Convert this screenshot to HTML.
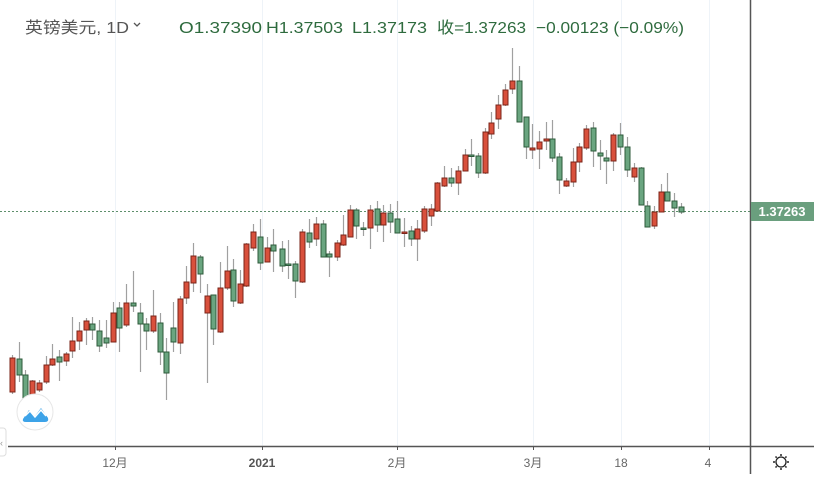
<!DOCTYPE html>
<html><head><meta charset="utf-8"><style>
body{margin:0;width:822px;height:482px;background:#fff;overflow:hidden;font-family:"Liberation Sans","Noto Sans CJK SC",sans-serif}
svg{position:absolute;left:0;top:0}
</style></head><body>
<svg id="s" width="822" height="482" xmlns="http://www.w3.org/2000/svg">
<g stroke="#eef3f8" stroke-width="1">
<line x1="115.5" y1="0" x2="115.5" y2="446"/><line x1="262.5" y1="0" x2="262.5" y2="446"/>
<line x1="397.5" y1="0" x2="397.5" y2="446"/><line x1="533.5" y1="0" x2="533.5" y2="446"/>
<line x1="621.5" y1="0" x2="621.5" y2="446"/><line x1="709.5" y1="0" x2="709.5" y2="446"/>
</g>
<line x1="0" y1="211.5" x2="750" y2="211.5" stroke="#5e8f6c" stroke-dasharray="2,2" stroke-width="1"/>
<g id="c"></g>
<line x1="8" y1="446.5" x2="814" y2="446.5" stroke="#555" stroke-width="1.5"/>
<line x1="750.5" y1="0" x2="750.5" y2="474" stroke="#555" stroke-width="1.5"/>
<g stroke="#555"><line x1="115.5" y1="446" x2="115.5" y2="450"/><line x1="262.5" y1="446" x2="262.5" y2="450"/><line x1="397.5" y1="446" x2="397.5" y2="450"/><line x1="533.5" y1="446" x2="533.5" y2="450"/><line x1="621.5" y1="446" x2="621.5" y2="450"/><line x1="709.5" y1="446" x2="709.5" y2="450"/></g>
<g font-size="12" fill="#666" text-anchor="middle" font-family="Liberation Sans,Noto Sans CJK SC,sans-serif">
<text x="115" y="467">12月</text><text x="262" y="467" font-weight="bold" fill="#555">2021</text>
<text x="397" y="467">2月</text><text x="533" y="467">3月</text><text x="621" y="467">18</text><text x="708" y="467">4</text>
</g>
<rect x="751" y="202" width="63" height="19" fill="#6a9f7e"/>
<text x="782" y="216" fill="#fff" font-size="13" text-anchor="middle" font-weight="bold">1.37263</text>
<g transform="translate(781,462)" stroke="#222" fill="none" stroke-width="1.3">
<circle r="5"/><g stroke-width="1.5"><line x1="0" y1="-8" x2="0" y2="-6"/><line x1="0" y1="8" x2="0" y2="6"/><line x1="-8" y1="0" x2="-6" y2="0"/><line x1="8" y1="0" x2="6" y2="0"/><line x1="-5.5" y1="-5.5" x2="-4.3" y2="-4.3"/><line x1="5.5" y1="5.5" x2="4.3" y2="4.3"/><line x1="-5.5" y1="5.5" x2="-4.3" y2="4.3"/><line x1="5.5" y1="-5.5" x2="4.3" y2="-4.3"/></g></g>
<rect x="-4" y="428" width="10" height="28" rx="3" fill="#fff" stroke="#ddd"/>
<text x="0" y="446" font-size="9" fill="#999">‹</text>
<circle cx="35" cy="412" r="18" fill="#fff" stroke="#e6e6e6"/>
<path d="M23 419 L29 410 L35 416 L41 408 L48 418 Q49 422 45 422 L26 422 Q22 422 23 419Z" fill="#3da3e8"/>
<path d="M25 416 L30 411 L35 417 L41 410 L46 416" stroke="#fff" stroke-width="1.5" fill="none"/>
<text x="25" y="33" font-size="16" fill="#555" textLength="104" lengthAdjust="spacingAndGlyphs">英镑美元, 1D</text>
<path d="M134 23 l3 3 l3 -3" stroke="#555" fill="none" stroke-width="1.3"/>
<g font-size="16" fill="#2e6b3e">
<text x="179" y="33" textLength="83" lengthAdjust="spacingAndGlyphs">O1.37390</text>
<text x="266" y="33" textLength="77" lengthAdjust="spacingAndGlyphs">H1.37503</text>
<text x="352" y="33" textLength="75" lengthAdjust="spacingAndGlyphs">L1.37173</text>
<text x="437" y="33" textLength="89" lengthAdjust="spacingAndGlyphs">收=1.37263</text>
<text x="536" y="33" textLength="148" lengthAdjust="spacingAndGlyphs">−0.00123 (−0.09%)</text>
</g>
</svg>
<script>
var d=[[12,'r',358,392,355,394],[19,'g',359,375,342,382],[25,'g',375,398,370,405],[32,'r',381,395,380,400],[39,'r',383,390,380,392],[46,'r',365,382,356,384],[52,'r',359,365,344,366],[59,'g',357,362,350,381],[66,'r',354,361,352,366],[72,'r',341,351,317,358],[79,'r',331,341,322,350],[86,'r',321,330,318,345],[92,'g',324,330,317,340],[99,'g',331,346,320,352],[106,'g',338,343,320,348],[113,'r',313,342,302,342],[119,'g',308,328,302,352],[126,'r',303,325,284,327],[133,'g',303,306,271,312],[140,'g',313,324,303,372],[146,'g',324,331,318,350],[153,'r',316,331,290,333],[160,'g',323,352,313,365],[166,'g',352,373,338,400],[173,'g',328,342,302,352],[180,'r',299,343,296,354],[186,'r',282,298,266,304],[193,'r',256,283,243,292],[200,'g',257,274,255,293],[207,'r',296,313,284,383],[213,'g',295,329,295,345],[220,'r',288,332,262,333],[227,'r',271,288,246,290],[233,'g',270,301,259,307],[240,'r',284,303,270,304],[246,'r',244,286,243,287],[253,'r',232,248,224,251],[260,'g',237,263,219,270],[267,'r',248,262,237,262],[273,'g',245,251,229,272],
[282,'g',249,266,241,272],[288,'g',264,265,240,279],[295,'g',264,281,261,298],[302,'r',232,282,229,283],[309,'g',233,242,219,248],[316,'r',224,239,217,246],[323,'g',224,257,220,257],[329,'g',254,257,251,277],[337,'r',243,257,240,261],[343,'r',235,245,215,246],[350,'r',210,237,205,237],[356,'g',210,226,208,239],[363,'g',228,229,222,236],[370,'r',210,228,205,249],[377,'g',209,225,201,232],[383,'r',213,225,205,242],[390,'g',213,222,204,233],[397,'g',219,233,201,233],[404,'r',232,233,218,247],[411,'g',231,239,226,246],[417,'r',229,239,220,261],[424,'r',209,231,206,233],[431,'r',209,216,204,226],[437,'r',183,211,182,211],[444,'r',178,186,166,187],[451,'g',178,183,168,187],[458,'r',171,183,166,195],[465,'r',155,171,149,171],[471,'g',155,156,139,166],[478,'g',156,173,153,178],[485,'r',132,173,128,174],[491,'r',123,134,112,139],[498,'r',105,119,95,129],[505,'r',90,105,84,106],[512,'r',81,89,48,94],[519,'g',81,122,66,122],[526,'g',117,147,117,159],
[532,'r',148,150,124,159],[539,'r',142,149,131,169],[546,'r',139,141,122,150],[552,'g',139,158,120,162],[559,'g',157,180,153,194],[566,'r',181,186,178,187],[573,'r',162,182,148,187],[579,'r',147,162,143,172],[586,'r',129,148,125,150],[593,'g',128,151,122,167],[600,'g',153,156,140,170],[606,'g',158,161,150,184],[613,'r',135,161,133,171],[620,'g',135,147,123,155],[627,'g',147,170,137,177],[634,'r',168,177,163,182],[641,'g',168,205,167,205],[647,'g',206,227,201,227],[654,'r',212,226,206,229],[661,'r',192,212,184,212],[667,'g',192,201,173,201],[674,'g',201,208,193,217],[681,'g',207,212,203,214]];
var h='';d.forEach(function(c){var f=c[1]=='r'?'#d9503c':'#6aa580',s=c[1]=='r'?'#7a2418':'#2c5a3a';
h+='<line x1="'+(c[0]+.5)+'" y1="'+c[4]+'" x2="'+(c[0]+.5)+'" y2="'+c[5]+'" stroke="#a0a0a0" stroke-width="1.2"/>';
var hh=Math.max(c[3]-c[2],1.5);h+='<rect x="'+(c[0]-2)+'" y="'+c[2]+'" width="5" height="'+hh+'" fill="'+f+'" stroke="'+s+'" stroke-width="1"/>';});
document.getElementById('c').innerHTML=h;
</script>
</body></html>
